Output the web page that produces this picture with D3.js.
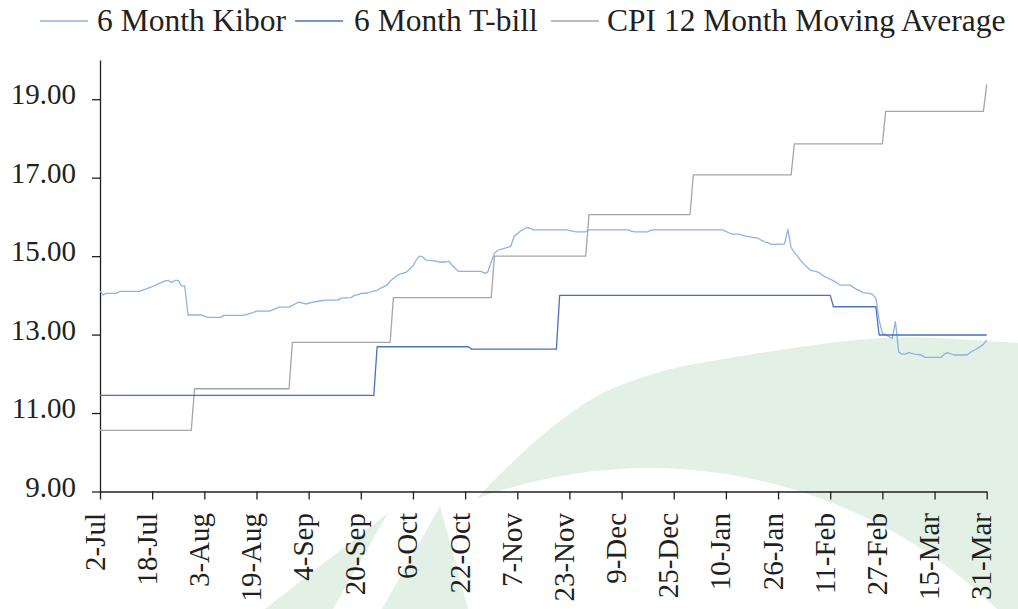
<!DOCTYPE html>
<html>
<head>
<meta charset="utf-8">
<script src="https://cdn.jsdelivr.net/npm/d3@7"></script>
<style>
  html, body { margin: 0; padding: 0; background: #ffffff; }
  svg { display: block; }
</style>
</head>
<body>
<svg id="chart" width="1018" height="609"></svg>
<script>
// ---------------- DATA ----------------
const seriesNames = ["6 Month Kibor", "6 Month T-bill", "CPI 12 Month Moving Average"];

const kiborDates = ["2008-07-02","2008-07-03","2008-07-04","2008-07-07","2008-07-08","2008-07-14","2008-07-16","2008-07-18","2008-07-20","2008-07-22","2008-07-23","2008-07-24","2008-07-25","2008-07-26","2008-07-27","2008-07-28","2008-07-29","2008-08-02","2008-08-04","2008-08-08","2008-08-09","2008-08-15","2008-08-18","2008-08-19","2008-08-23","2008-08-26","2008-08-29","2008-09-01","2008-09-03","2008-09-05","2008-09-07","2008-09-09","2008-09-13","2008-09-14","2008-09-17","2008-09-18","2008-09-19","2008-09-20","2008-09-22","2008-09-23","2008-09-25","2008-09-26","2008-09-28","2008-09-29","2008-10-01","2008-10-02","2008-10-04","2008-10-06","2008-10-07","2008-10-08","2008-10-09","2008-10-10","2008-10-13","2008-10-14","2008-10-16","2008-10-17","2008-10-18","2008-10-20","2008-10-27","2008-10-28","2008-10-29","2008-10-30","2008-10-31","2008-11-01","2008-11-03","2008-11-05","2008-11-06","2008-11-08","2008-11-10","2008-11-11","2008-11-12","2008-11-22","2008-11-24","2008-11-25","2008-11-28","2008-11-29","2008-12-11","2008-12-12","2008-12-13","2008-12-17","2008-12-18","2008-12-19","2009-01-09","2009-01-11","2009-01-12","2009-01-14","2009-01-16","2009-01-17","2009-01-20","2009-01-21","2009-01-22","2009-01-23","2009-01-24","2009-01-28","2009-01-29","2009-01-30","2009-01-31","2009-02-01","2009-02-02","2009-02-04","2009-02-05","2009-02-07","2009-02-08","2009-02-09","2009-02-10","2009-02-11","2009-02-12","2009-02-13","2009-02-14","2009-02-17","2009-02-18","2009-02-19","2009-02-20","2009-02-21","2009-02-23","2009-02-24","2009-02-25","2009-02-26","2009-02-27","2009-02-28","2009-03-01","2009-03-02","2009-03-03","2009-03-04","2009-03-05","2009-03-06","2009-03-07","2009-03-09","2009-03-11","2009-03-12","2009-03-17","2009-03-18","2009-03-19","2009-03-21","2009-03-25","2009-03-26","2009-03-28","2009-03-30","2009-03-31"];
const kiborValues = [14.11,14.01,14.05,14.05,14.10,14.10,14.16,14.22,14.30,14.37,14.38,14.33,14.38,14.38,14.24,14.24,13.50,13.50,13.44,13.44,13.49,13.49,13.56,13.60,13.60,13.70,13.70,13.83,13.78,13.82,13.85,13.88,13.88,13.93,13.94,14.00,14.01,14.05,14.06,14.09,14.13,14.18,14.26,14.36,14.50,14.54,14.59,14.75,14.90,15.00,14.98,14.90,14.88,14.85,14.85,14.87,14.77,14.61,14.61,14.56,14.60,14.85,15.07,15.15,15.20,15.25,15.50,15.64,15.73,15.71,15.67,15.67,15.64,15.62,15.62,15.67,15.67,15.64,15.62,15.62,15.66,15.67,15.67,15.59,15.56,15.56,15.51,15.50,15.45,15.40,15.36,15.34,15.30,15.31,15.68,15.22,15.09,15.00,14.88,14.71,14.64,14.60,14.56,14.49,14.45,14.41,14.37,14.32,14.26,14.26,14.21,14.16,14.12,14.07,14.05,14.02,13.93,13.37,13.03,13.00,12.95,12.90,13.33,12.56,12.50,12.50,12.54,12.50,12.48,12.42,12.42,12.50,12.54,12.48,12.48,12.55,12.64,12.75,12.86];

const tbillDates = ["2008-07-02","2008-09-24","2008-09-25","2008-10-23","2008-10-24","2008-11-19","2008-11-20","2009-02-11","2009-02-12","2009-02-25","2009-02-26","2009-03-31"];
const tbillValues = [11.45,11.45,12.69,12.69,12.63,12.63,14.00,14.00,13.71,13.71,12.99,12.99];

const cpiDates = ["2008-07-02","2008-07-30","2008-07-31","2008-08-29","2008-08-30","2008-09-29","2008-09-30","2008-10-30","2008-10-31","2008-11-28","2008-11-29","2008-12-30","2008-12-31","2009-01-30","2009-01-31","2009-02-27","2009-02-28","2009-03-30","2009-03-31"];
const cpiValues = [10.56,10.56,11.62,11.62,12.80,12.80,13.94,13.94,15.00,15.00,16.06,16.06,17.07,17.07,17.86,17.86,18.69,18.69,19.38];

const xTickDates = ["2008-07-02","2008-07-18","2008-08-03","2008-08-19","2008-09-04","2008-09-20","2008-10-06","2008-10-22","2008-11-07","2008-11-23","2008-12-09","2008-12-25","2009-01-10","2009-01-26","2009-02-11","2009-02-27","2009-03-15","2009-03-31"];
const xTickLabels = ["2-Jul","18-Jul","3-Aug","19-Aug","4-Sep","20-Sep","6-Oct","22-Oct","7-Nov","23-Nov","9-Dec","25-Dec","10-Jan","26-Jan","11-Feb","27-Feb","15-Mar","31-Mar"];
const yTicks = [9, 11, 13, 15, 17, 19];
const yDomain = [9, 20];

// ---------------- STYLE / LAYOUT ----------------
const FONT = "'Liberation Serif', 'Times New Roman', serif";
const INK = "#231f20";
const colors = ["#8db3e2", "#4a72c0", "#a6a6a6"];
const WATERMARK = "#e2f0e6";

const parse = d3.timeParse("%Y-%m-%d");
const svg = d3.select("#chart");

const x = d3.scaleTime()
  .domain([parse(xTickDates[0]), parse(xTickDates[xTickDates.length - 1])])
  .range([100, 986.7]);
const y = d3.scaleLinear().domain(yDomain).range([491.5, 60]);

// ---------------- WATERMARK (background decoration) ----------------
const wm = svg.append("g").attr("fill", WATERMARK);
const outerEdge = d3.line().curve(d3.curveNatural)([
  [476, 499], [520, 455], [560, 421], [603, 393], [650, 375], [700, 363],
  [800, 347], [870, 339], [933, 338], [1018, 343]
]);
wm.append("path")
  .attr("d", outerEdge + "L1018,609L997,609A500,500 0 0,0 476,499Z");
wm.append("path").attr("d", "M388,513L265,609L333,609Z");
wm.append("path").attr("d", "M440,506L382,609L468,609Z");

// ---------------- AXES ----------------
const yAxis = d3.axisLeft(y)
  .tickValues(yTicks)
  .tickFormat(d3.format(".2f"))
  .tickSize(8)
  .tickSizeOuter(0)
  .tickPadding(16);
const gy = svg.append("g").attr("transform", "translate(100,0)").call(yAxis);
gy.selectAll("text")
  .attr("dy", 4.5)
  .attr("fill", INK)
  .style("font-family", FONT)
  .style("font-size", "29px");

const xAxis = d3.axisBottom(x)
  .tickValues(xTickDates.map(parse))
  .tickFormat((d, i) => xTickLabels[i])
  .tickSize(8)
  .tickSizeOuter(0);
const gx = svg.append("g").attr("transform", "translate(0,491.5)").call(xAxis);
gx.selectAll("text")
  .attr("transform", "rotate(-90)")
  .attr("text-anchor", "end")
  .attr("x", -21.5)
  .attr("y", 0)
  .attr("dy", 4)
  .attr("fill", INK)
  .style("font-family", FONT)
  .style("font-size", "29px");

[gx, gy].forEach(g => {
  g.select(".domain").attr("stroke", INK).attr("stroke-width", 1.3);
  g.selectAll(".tick line").attr("stroke", INK).attr("stroke-width", 1.3);
});

// ---------------- LINES ----------------
const lineGen = d3.line().x(d => x(d[0])).y(d => y(d[1]));
const series = [
  { name: seriesNames[0], dates: kiborDates, values: kiborValues, color: colors[0], w: 1.3 },
  { name: seriesNames[1], dates: tbillDates, values: tbillValues, color: colors[1], w: 1.3 },
  { name: seriesNames[2], dates: cpiDates, values: cpiValues, color: colors[2], w: 1.3 }
];
// draw CPI first, then Kibor, then T-bill on top
[series[2], series[0], series[1]].forEach(s => {
  const pts = s.dates.map((d, i) => [parse(d), s.values[i]]);
  svg.append("path")
    .attr("d", lineGen(pts))
    .attr("fill", "none")
    .attr("stroke", s.color)
    .attr("stroke-width", s.w)
    .attr("stroke-linejoin", "round");
});

// ---------------- LEGEND ----------------
const legendSampleX = [40, 295, 551];
const legendTextX = [97, 354, 607];
const legend = svg.append("g");
series.forEach((s, i) => {
  legend.append("line")
    .attr("x1", legendSampleX[i]).attr("x2", legendSampleX[i] + 48)
    .attr("y1", 21).attr("y2", 21)
    .attr("stroke", s.color).attr("stroke-width", 1.5);
  legend.append("text")
    .attr("x", legendTextX[i]).attr("y", 31)
    .attr("fill", INK)
    .style("font-family", FONT)
    .style("font-size", "31.5px")
    .text(s.name);
});
</script>
</body>
</html>
